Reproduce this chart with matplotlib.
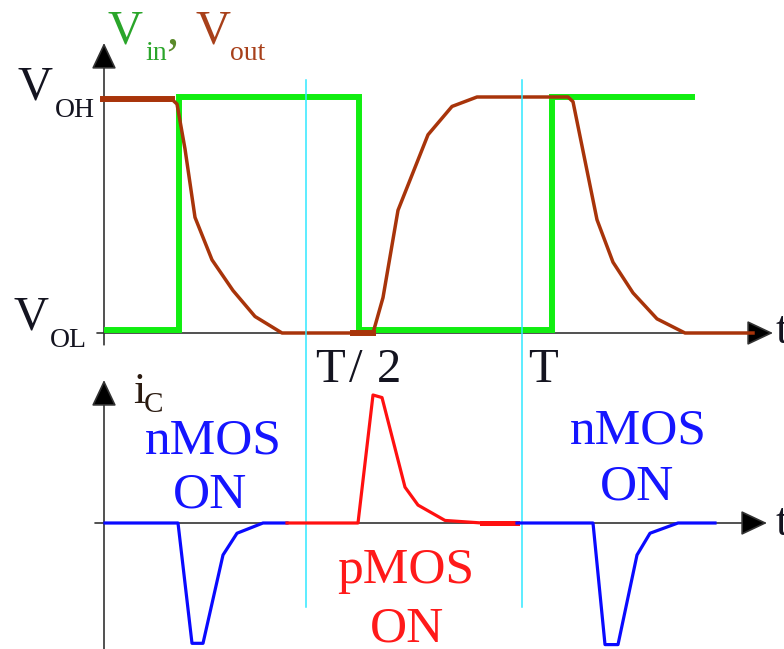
import matplotlib
matplotlib.use("Agg")
import matplotlib.pyplot as plt

# ---- waveform data (time in arbitrary units, origin at the vertical axis) ----
t_half = 202          # T/2 marker
t_period = 418        # T marker

# input voltage (normalised: 0 = V_OL, 1 = V_OH)
vin_t = [3, 75, 75, 255, 255, 448, 448, 588]
vin_v = [0.013, 0.013, 1.0, 1.0, 0.013, 0.013, 1.0, 1.0]

# output voltage (normalised)
vout_t = [-1, 68, 73, 81, 91, 108, 129, 151, 178, 249, 269, 279, 294, 324, 348,
          373, 464, 469, 493, 509, 529, 553, 581, 649]
vout_v = [0.99, 0.99, 0.97, 0.78, 0.49, 0.31, 0.18, 0.07, 0.0, 0.0, 0.0, 0.15,
          0.52, 0.84, 0.96, 1.0, 1.0, 0.98, 0.48, 0.30, 0.17, 0.06, 0.0, 0.0]

# capacitor current (normalised to the charging peak)
in1_t = [1, 74, 88, 99, 119, 133, 159, 183]
in1_i = [0.0, 0.0, -0.94, -0.94, -0.25, -0.08, 0.0, 0.0]

ip_t = [183, 254, 269, 278, 301, 314, 341, 378, 413]
ip_i = [0.0, 0.0, 1.0, 0.98, 0.28, 0.14, 0.02, 0.0, 0.0]

in2_t = [413, 489, 501, 514, 533, 546, 574, 611]
in2_i = [0.0, 0.0, -0.95, -0.95, -0.25, -0.08, 0.0, 0.0]

W, H = 784, 649
fig = plt.figure(figsize=(W / 100, H / 100), dpi=100)
fig.patch.set_facecolor("white")

SERIF = ["Liberation Serif", "DejaVu Serif"]


def px(x, y):
    """Pixel position (from top-left) to figure fraction."""
    return x / W, 1 - y / H


# top panel: voltage axes, 0 at row 333, 1 at row 97
ax_v = fig.add_axes([0, 0, 1, 1])
ax_v.set_xlim(-104, W - 104)
ax_v.set_ylim((333 - H) / 236, 333 / 236)
ax_v.axis("off")

# bottom panel: current axes, 0 at row 523, 1 at row 395
ax_i = fig.add_axes([0, 0, 1, 1])
ax_i.set_xlim(-104, W - 104)
ax_i.set_ylim((523 - H) / 128, 523 / 128)
ax_i.axis("off")
ax_i.patch.set_visible(False)

AX_COL = "#333333"


def arrow(ax, start, end):
    ax.annotate("", xy=end, xytext=start,
                arrowprops=dict(arrowstyle="-|>,head_length=1.65,head_width=0.78",
                                mutation_scale=10, lw=1.2, color=AX_COL,
                                fc="black", ec=AX_COL,
                                shrinkA=0, shrinkB=0), zorder=2)


# axes with arrow heads
arrow(ax_v, (0, -0.05), (0, 1.229))
arrow(ax_v, (-7, 0), (669, 0))
arrow(ax_i, (0, -0.99), (0, 1.117))
arrow(ax_i, (-9, 0), (663, 0))

# voltage waveforms
GREEN = "#11ee11"
BROWN = "#a8340a"
ax_v.plot(vin_t, vin_v, color=GREEN, lw=4.3, solid_joinstyle="miter", zorder=3)
ax_v.plot(vout_t, vout_v, color=BROWN, lw=2.5, zorder=4)
ax_v.plot(vout_t[:2], vout_v[:2], color=BROWN, lw=4.3, zorder=4)
ax_v.plot(vout_t[9:11], vout_v[9:11], color=BROWN, lw=4.3, zorder=4)

# current waveforms
BLUE = "#0a0aff"
RED = "#ff1010"
ax_i.plot(in1_t, in1_i, color=BLUE, lw=2.3, zorder=4)
ax_i.plot(ip_t, ip_i, color=RED, lw=2.3, zorder=4)
ax_i.plot(ip_t[-2:], ip_i[-2:], color=RED, lw=3.6, zorder=4)
ax_i.plot(in2_t, in2_i, color=BLUE, lw=2.3, zorder=4)

# period markers
CYAN = "#30e8ff"
for tm in (t_half, t_period):
    ax_v.plot([tm, tm], [(333 - 80) / 236, (333 - 607) / 236],
              color=CYAN, lw=1.1, zorder=6)


def label(x, y, s, size, color="#141420", ha="left"):
    fig.text(*px(x, y), s, fontsize=size, color=color, ha=ha, va="baseline",
             family=SERIF)


DARK = "#141420"
BIG = 35
SUB = 20

label(18, 99, "V", BIG)
label(55, 117, "OH", SUB)
label(13, 330, "V", BIG)
label(50, 347, "OL", SUB)

TXT_GREEN = "#2aa52a"
TXT_BROWN = "#a8401a"
label(108, 43, "V", BIG, TXT_GREEN)
label(145, 60, "in", SUB, TXT_GREEN)
label(166, 43, ",", BIG, "#5a8a2a")
label(195, 43, "V", BIG, TXT_BROWN)
label(230, 60, "out", SUB, TXT_BROWN)

label(133, 403, "i", 32, "#2a1a10")
label(144, 412, "C", 21, "#2a1a10")

label(315, 382, "T", BIG)
label(349, 382, "/", BIG)
label(377, 382, "2", BIG)
label(528, 382, "T", BIG)
label(776, 343, "t", 33)
label(776, 535, "t", 33)

MOS = 37
label(213, 453, "nMOS", MOS, "#1515ff", ha="center")
label(210, 507, "ON", MOS, "#1515ff", ha="center")
label(638, 443, "nMOS", MOS, "#1515ff", ha="center")
label(637, 500, "ON", MOS, "#1515ff", ha="center")
label(406, 583, "pMOS", MOS, "#ff1a1a", ha="center")
label(407, 641, "ON", MOS, "#ff1a1a", ha="center")

fig.savefig("out.png", dpi=100, facecolor="white")
